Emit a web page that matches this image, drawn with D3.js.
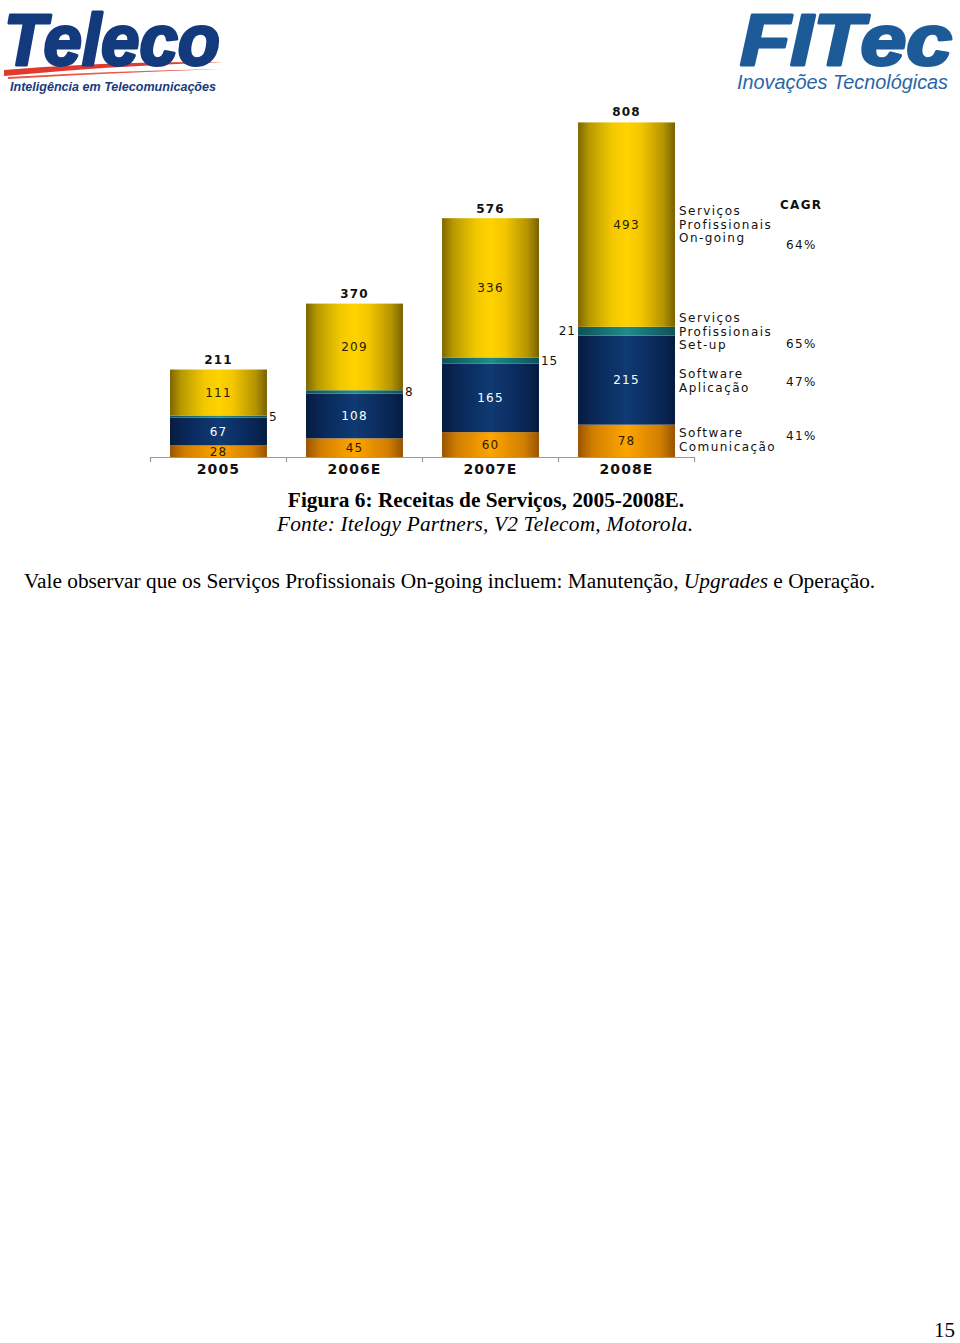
<!DOCTYPE html>
<html><head><meta charset="utf-8">
<script src="https://cdn.jsdelivr.net/npm/d3@7"></script>
<style>html,body{margin:0;padding:0;background:#fff;}svg{display:block;}</style>
</head><body>
<script>
const categories = ["2005", "2006E", "2007E", "2008E"];
const comunicacao = [28, 45, 60, 78];
const aplicacao = [67, 108, 165, 215];
const setup = [5, 8, 15, 21];
const ongoing = [111, 209, 336, 493];
const totals = [211, 370, 576, 808];
const seriesNames = ["Software\nComunicação", "Software\nAplicação", "Serviços\nProfissionais\nSet-up", "Serviços\nProfissionais\nOn-going"];
const cagr = ["41%", "47%", "65%", "64%"];

const W = 960, H = 1343;
const svg = d3.select("body").append("svg").attr("width", W).attr("height", H);
const defs = svg.append("defs");

function grad(id, stops) {
  const g = defs.append("linearGradient").attr("id", id).attr("x1", "0%").attr("x2", "100%").attr("y1", "0%").attr("y2", "0%");
  stops.forEach(s => g.append("stop").attr("offset", s[0]).attr("stop-color", s[1]));
}
grad("gY", [["0%", "#7e6800"], ["12%", "#b89a00"], ["35%", "#f2c800"], ["50%", "#ffd200"], ["65%", "#f4c600"], ["88%", "#b49400"], ["100%", "#7a6200"]]);
grad("gB", [["0%", "#061c40"], ["20%", "#0a2a5c"], ["50%", "#0f3a72"], ["80%", "#0a2a5c"], ["100%", "#061c40"]]);
grad("gT", [["0%", "#0e5258"], ["50%", "#1f8c8a"], ["100%", "#0e5258"]]);
grad("gO", [["0%", "#9a5400"], ["15%", "#d07e00"], ["50%", "#ffa500"], ["85%", "#d07e00"], ["100%", "#9a5400"]]);

const fills = ["url(#gO)", "url(#gB)", "url(#gT)", "url(#gY)"];
const labelColors = ["#2a1a00", "#ffffff", null, "#2a2000"];

// ---------- logos ----------
const teleco = svg.append("g");
teleco.append("path").attr("d", "M4,70 Q110,61 224,62 Q110,66 4,76 Z").attr("fill", "#e03a2e");
teleco.append("path").attr("d", "M8,77 Q110,71 222,69 Q110,73 8,79 Z").attr("fill", "#e85a48");
teleco.append("text").attr("x", 4).attr("y", 65)
  .attr("font-family", "Liberation Sans, Arial, sans-serif").attr("font-weight", "bold").attr("font-style", "italic")
  .attr("font-size", 72).attr("textLength", 216).attr("lengthAdjust", "spacingAndGlyphs")
  .attr("fill", "#133a7c").attr("stroke", "#133a7c").attr("stroke-width", 3).attr("stroke-linejoin", "round").text("Teleco");
teleco.append("text").attr("x", 10).attr("y", 91)
  .attr("font-family", "Liberation Sans, Arial, sans-serif").attr("font-weight", "bold").attr("font-style", "italic")
  .attr("font-size", 13).attr("textLength", 206).attr("lengthAdjust", "spacingAndGlyphs")
  .attr("fill", "#1a3a7c").text("Inteligência em Telecomunicações");

const fitec = svg.append("g");
fitec.append("text").attr("x", 740).attr("y", 65)
  .attr("font-family", "Liberation Sans, Arial, sans-serif").attr("font-weight", "bold").attr("font-style", "italic")
  .attr("font-size", 72).attr("textLength", 212).attr("lengthAdjust", "spacingAndGlyphs")
  .attr("fill", "#1d5a98").attr("stroke", "#1d5a98").attr("stroke-width", 3).attr("stroke-linejoin", "round").text("FITec");
fitec.append("text").attr("x", 737).attr("y", 89)
  .attr("font-family", "Liberation Sans, Arial, sans-serif").attr("font-style", "italic")
  .attr("font-size", 20).attr("textLength", 211).attr("lengthAdjust", "spacingAndGlyphs")
  .attr("fill", "#2a66a6").text("Inovações Tecnológicas");

// ---------- chart ----------
const x = d3.scaleBand().domain(categories).range([150, 695]).paddingInner(0.287).paddingOuter(0.147);
const y = d3.scaleLinear().domain([0, 808]).range([457, 122]);

const stackData = categories.map((c, i) => ({ cat: c, comunicacao: comunicacao[i], aplicacao: aplicacao[i], setup: setup[i], ongoing: ongoing[i] }));
const keys = ["comunicacao", "aplicacao", "setup", "ongoing"];
const stacked = d3.stack().keys(keys)(stackData);

const font = "DejaVu Sans, Verdana, sans-serif";
const chart = svg.append("g");

stacked.forEach((layer, li) => {
  chart.append("g").selectAll("rect").data(layer).join("rect")
    .attr("x", d => x(d.data.cat)).attr("width", x.bandwidth())
    .attr("y", d => y(d[1])).attr("height", d => y(d[0]) - y(d[1]))
    .attr("fill", fills[li]);
});

// segment labels (inside)
[0, 1, 3].forEach(li => {
  chart.append("g").selectAll("text").data(stacked[li]).join("text")
    .attr("x", d => x(d.data.cat) + x.bandwidth() / 2)
    .attr("y", d => (y(d[0]) + y(d[1])) / 2)
    .attr("dy", "0.36em").attr("text-anchor", "middle")
    .attr("font-family", font).attr("font-size", 12).attr("letter-spacing", 1.2)
    .attr("fill", labelColors[li])
    .text(d => d[1] - d[0]);
});
// set-up labels (outside)
chart.append("g").selectAll("text").data(stacked[2]).join("text")
  .attr("x", (d, i) => i === 3 ? x(d.data.cat) - 2 : x(d.data.cat) + x.bandwidth() + 2)
  .attr("text-anchor", (d, i) => i === 3 ? "end" : "start")
  .attr("y", d => (y(d[0]) + y(d[1])) / 2).attr("dy", "0.36em")
  .attr("font-family", font).attr("font-size", 12).attr("letter-spacing", 1)
  .attr("fill", "#111")
  .text(d => d[1] - d[0]);

// totals
chart.append("g").selectAll("text").data(categories).join("text")
  .attr("x", c => x(c) + x.bandwidth() / 2)
  .attr("y", (c, i) => y(totals[i]) - 10).attr("dy", "0.36em")
  .attr("text-anchor", "middle").attr("font-family", font).attr("font-weight", "bold")
  .attr("font-size", 12).attr("letter-spacing", 1.2).attr("fill", "#111")
  .text((c, i) => totals[i]);

// axis
const step = x.step();
const ax = chart.append("g").attr("stroke", "#9a9a9a").attr("stroke-width", 1.2);
ax.append("line").attr("x1", x.range()[0]).attr("x2", x.range()[1]).attr("y1", 457.5).attr("y2", 457.5);
const tickXs = categories.map(c => x(c) - step * x.paddingInner() / 2).concat([x(categories[3]) + x.bandwidth() + step * x.paddingInner() / 2]);
ax.selectAll("line.t").data(tickXs).join("line").attr("class", "t")
  .attr("x1", d => d).attr("x2", d => d).attr("y1", 457).attr("y2", 462);

chart.append("g").selectAll("text").data(categories).join("text")
  .attr("x", c => x(c) + x.bandwidth() / 2).attr("y", 469).attr("dy", "0.36em")
  .attr("text-anchor", "middle").attr("font-family", font).attr("font-weight", "bold")
  .attr("font-size", 14).attr("letter-spacing", 1.1).attr("fill", "#111").text(c => c);

// legend labels at right
const legendTops = [433, 374, 318, 211];
const cagrY = [436, 382, 344, 245];
seriesNames.forEach((name, i) => {
  const t = chart.append("text").attr("font-family", font).attr("font-size", 12).attr("letter-spacing", 1.45).attr("fill", "#111");
  name.split("\n").forEach((ln, j) => {
    t.append("tspan").attr("x", 679).attr("y", legendTops[i] + j * 13.3).attr("dy", "0.36em").text(ln);
  });
  chart.append("text").attr("x", 786).attr("y", cagrY[i]).attr("dy", "0.36em")
    .attr("font-family", font).attr("font-size", 12).attr("letter-spacing", 1.4).attr("fill", "#111").text(cagr[i]);
});
chart.append("text").attr("x", 780).attr("y", 205).attr("dy", "0.36em")
  .attr("font-family", font).attr("font-weight", "bold").attr("font-size", 12).attr("letter-spacing", 1.3)
  .attr("fill", "#111").text("CAGR");

// ---------- captions ----------
const serif = "Liberation Serif, Times New Roman, serif";
svg.append("text").attr("x", 486).attr("y", 507).attr("text-anchor", "middle")
  .attr("font-family", serif).attr("font-weight", "bold").attr("font-size", 21.33).attr("fill", "#000")
  .text("Figura 6: Receitas de Serviços, 2005-2008E.");
svg.append("text").attr("x", 277).attr("y", 531)
  .attr("font-family", serif).attr("font-style", "italic").attr("font-size", 21.33).attr("fill", "#000")
  .attr("textLength", 416).attr("lengthAdjust", "spacing")
  .text("Fonte: Itelogy Partners, V2 Telecom, Motorola.");
const body = svg.append("text").attr("x", 24).attr("y", 588)
  .attr("font-family", serif).attr("font-size", 21.33).attr("fill", "#000");
body.append("tspan").text("Vale observar que os Serviços Profissionais On-going incluem: Manutenção, ");
body.append("tspan").attr("font-style", "italic").text("Upgrades");
body.append("tspan").text(" e Operação.");
svg.append("text").attr("x", 955).attr("y", 1337).attr("text-anchor", "end")
  .attr("font-family", serif).attr("font-size", 21).attr("fill", "#000").text("15");
</script>
</body></html>
